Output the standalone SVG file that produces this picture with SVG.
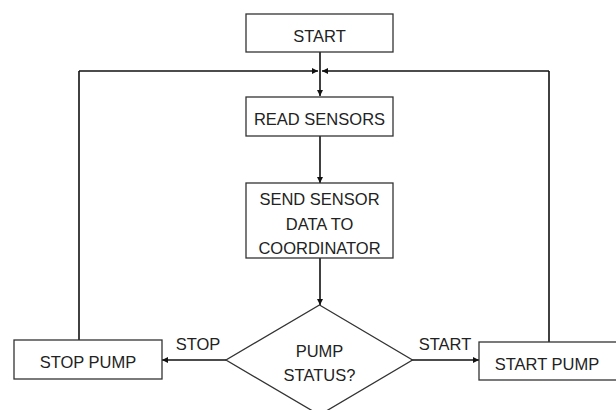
<svg xmlns="http://www.w3.org/2000/svg" width="616" height="410" viewBox="0 0 616 410">
<defs>
<marker id="ah" viewBox="0 0 10 10" refX="10" refY="5" markerWidth="6" markerHeight="6" markerUnits="userSpaceOnUse" orient="auto">
<path d="M0,0 L10,5 L0,10 z" fill="#111"/>
</marker>
<style>
.box{fill:#fff;stroke:#333;stroke-width:1.3}
.t{font-family:"Liberation Sans",Arial,sans-serif;font-size:16.5px;fill:#222;text-anchor:middle}
.c{fill:none;stroke:#111;stroke-width:1.6}
</style>
</defs>
<rect width="616" height="410" fill="#fff"/>
<g id="connectors">
<line class="c" x1="320" y1="52" x2="320" y2="96" marker-end="url(#ah)"/>
<line class="c" x1="79" y1="340" x2="79" y2="71"/>
<line class="c" x1="79" y1="71" x2="318" y2="71" marker-end="url(#ah)"/>
<line class="c" x1="549" y1="342" x2="549" y2="71"/>
<line class="c" x1="549" y1="71" x2="322" y2="71" marker-end="url(#ah)"/>
<line class="c" x1="320" y1="136" x2="320" y2="183" marker-end="url(#ah)"/>
<line class="c" x1="320" y1="258" x2="320" y2="305" marker-end="url(#ah)"/>
<line class="c" x1="226" y1="360" x2="162" y2="360" marker-end="url(#ah)"/>
<line class="c" x1="412" y1="360" x2="479" y2="360" marker-end="url(#ah)"/>
<text class="t" x="198" y="350">STOP</text>
<text class="t" x="445" y="350">START</text>
</g>
<g id="start">
<rect class="box" x="246" y="14" width="147" height="38"/>
<text class="t" x="319.5" y="42">START</text>
</g>
<g id="read">
<rect class="box" x="246" y="97" width="147" height="39"/>
<text class="t" x="319.5" y="125">READ SENSORS</text>
</g>
<g id="send">
<rect class="box" x="246" y="183" width="147" height="75"/>
<text class="t" x="319.5" y="205">SEND SENSOR</text>
<text class="t" x="319.5" y="229.5">DATA TO</text>
<text class="t" x="319.5" y="254">COORDINATOR</text>
</g>
<g id="decision">
<polygon class="box" points="319.5,305 412.5,360 319.5,415 226,360"/>
<text class="t" x="319.5" y="356.5">PUMP</text>
<text class="t" x="319.5" y="380.5">STATUS?</text>
</g>
<g id="stop-pump">
<rect class="box" x="14" y="340" width="148" height="39"/>
<text class="t" x="88" y="368">STOP PUMP</text>
</g>
<g id="start-pump">
<rect class="box" x="479" y="342" width="150" height="38"/>
<text class="t" x="547" y="370">START PUMP</text>
</g>
</svg>
